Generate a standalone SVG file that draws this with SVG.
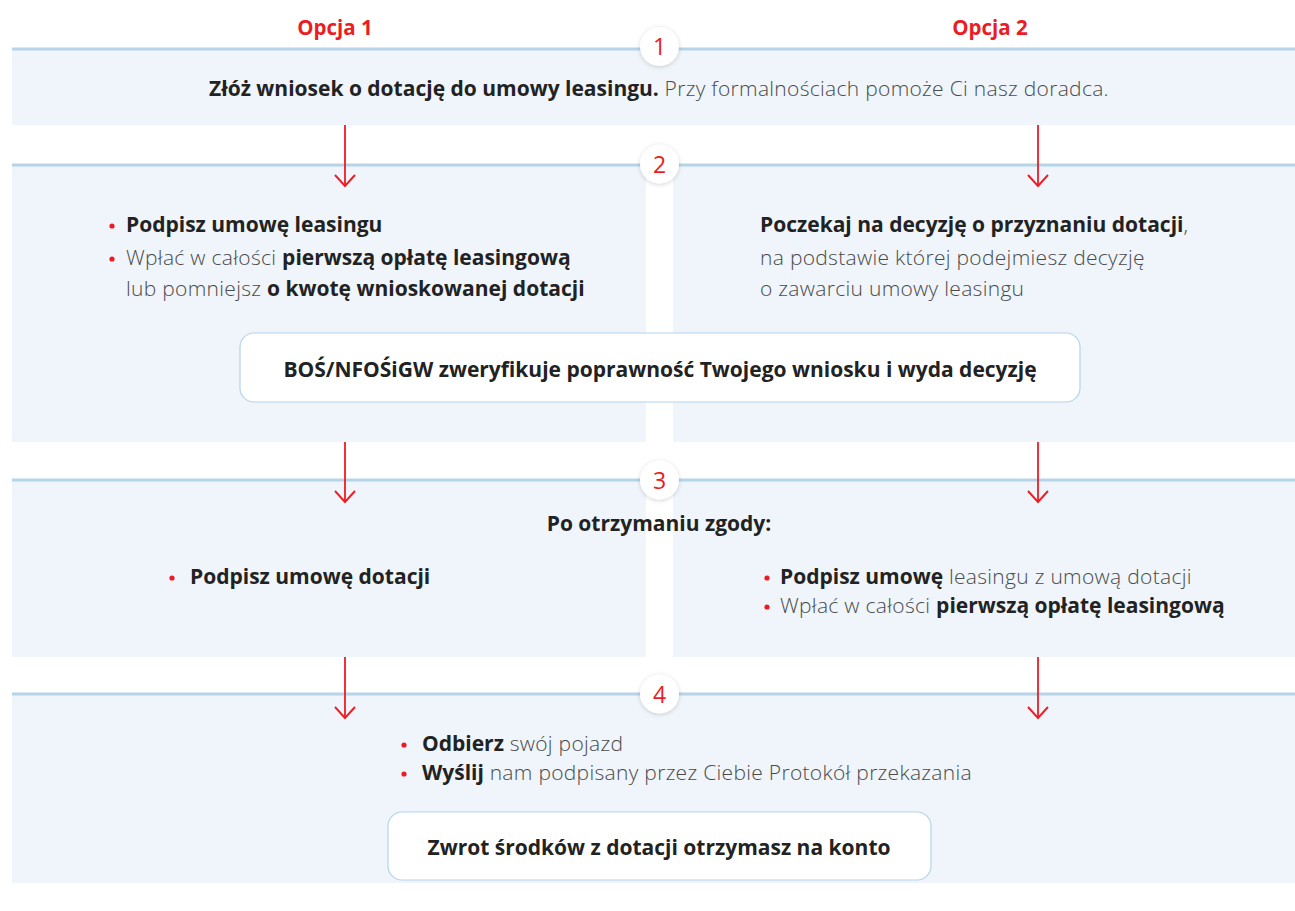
<svg xmlns="http://www.w3.org/2000/svg" width="1295" height="911" viewBox="0 0 1295 911">
<defs>
<style>
.band{fill:#eff5fa}
.rule{stroke:#b5d4e8;stroke-width:3}
.t{font-family:"Open Sans","Liberation Sans",sans-serif;font-size:21px;fill:#4a4a4a;font-weight:300;letter-spacing:0.3px}
.b{font-weight:700;fill:#222;letter-spacing:0}
.opt{font-family:"Open Sans","Liberation Sans",sans-serif;font-size:20.5px;font-weight:700;fill:#ec1c24}
.num{font-family:"Open Sans","Liberation Sans",sans-serif;font-size:23px;fill:#ec1c24;text-anchor:middle}
.circ{fill:#fff}
.box{fill:#fff;stroke:#b5d4e8;stroke-width:1.2}
.dot{fill:#ec1c24}
.arr{stroke:#ec1c24;stroke-width:1.8;fill:none}
</style>
<filter id="sh" x="-40%" y="-40%" width="180%" height="180%">
<feDropShadow dx="0" dy="1" stdDeviation="2" flood-color="#000" flood-opacity="0.18"/>
</filter>
<marker id="ah" markerWidth="14" markerHeight="22" refX="12" refY="11" markerUnits="userSpaceOnUse" orient="auto" viewBox="0 0 14 22">
<path d="M1 1 L12 11 L1 21" fill="none" stroke="#ec1c24" stroke-width="1.9"/>
</marker>
</defs>
<rect width="1295" height="911" fill="#fff"/>

<g id="headers">
<text class="opt" x="335" y="35" text-anchor="middle">Opcja 1</text>
<text class="opt" x="990" y="35" text-anchor="middle">Opcja 2</text>
</g>

<g id="step1">
<rect class="band" x="12" y="49" width="1283" height="76"/>
<line class="rule" x1="12" y1="49" x2="1295" y2="49"/>
<circle class="circ" cx="659.5" cy="46.5" r="19.5" filter="url(#sh)"/>
<text class="num" x="659.5" y="55">1</text>
<text class="t" x="659" y="96" text-anchor="middle"><tspan class="b">Złóż wniosek o dotację do umowy leasingu.</tspan> Przy formalnościach pomoże Ci nasz doradca.</text>
</g>

<g id="step2">
<rect class="band" x="12" y="165" width="634" height="277"/>
<rect class="band" x="673" y="165" width="622" height="277"/>
<line class="rule" x1="12" y1="165" x2="1295" y2="165"/>
<circle class="circ" cx="659.5" cy="164" r="19.5" filter="url(#sh)"/>
<text class="num" x="659.5" y="172.5">2</text>
</g>

<g id="step2-left">
<circle class="dot" cx="112" cy="226" r="2.6"/>
<circle class="dot" cx="112" cy="259" r="2.6"/>
<text class="t" x="126" y="232"><tspan class="b">Podpisz umowę leasingu</tspan></text>
<text class="t" x="126" y="265">Wpłać w całości <tspan class="b">pierwszą opłatę leasingową</tspan></text>
<text class="t" x="126" y="296">lub pomniejsz <tspan class="b">o kwotę wnioskowanej dotacji</tspan></text>
</g>

<g id="step2-right">
<text class="t" x="760" y="232"><tspan class="b">Poczekaj na decyzję o przyznaniu dotacji</tspan>,</text>
<text class="t" x="760" y="265">na podstawie której podejmiesz decyzję</text>
<text class="t" x="760" y="296">o zawarciu umowy leasingu</text>
</g>

<g id="verify">
<rect class="box" x="240" y="333" width="840" height="69" rx="14"/>
<text class="t" x="660" y="377" text-anchor="middle"><tspan class="b">BOŚ/NFOŚiGW zweryfikuje poprawność Twojego wniosku i wyda decyzję</tspan></text>
</g>

<g id="step3">
<rect class="band" x="12" y="480" width="634" height="177"/>
<rect class="band" x="673" y="480" width="622" height="177"/>
<line class="rule" x1="12" y1="480" x2="1295" y2="480"/>
<circle class="circ" cx="659.5" cy="480" r="19.5" filter="url(#sh)"/>
<text class="num" x="659.5" y="488.5">3</text>
<text class="t" x="659" y="531" text-anchor="middle"><tspan class="b">Po otrzymaniu zgody:</tspan></text>
</g>

<g id="step3-left">
<circle class="dot" cx="172" cy="578" r="2.6"/>
<text class="t" x="190" y="584"><tspan class="b">Podpisz umowę dotacji</tspan></text>
</g>

<g id="step3-right">
<circle class="dot" cx="767" cy="578" r="2.6"/>
<circle class="dot" cx="767" cy="607" r="2.6"/>
<text class="t" x="780" y="584"><tspan class="b">Podpisz umowę</tspan> leasingu z umową dotacji</text>
<text class="t" x="780" y="613">Wpłać w całości <tspan class="b">pierwszą opłatę leasingową</tspan></text>
</g>

<g id="step4">
<rect class="band" x="12" y="694" width="1283" height="189"/>
<line class="rule" x1="12" y1="694" x2="1295" y2="694"/>
<circle class="circ" cx="659.5" cy="694" r="19.5" filter="url(#sh)"/>
<text class="num" x="659.5" y="702.5">4</text>
<circle class="dot" cx="404" cy="745" r="2.6"/>
<circle class="dot" cx="404" cy="774" r="2.6"/>
<text class="t" x="422" y="751"><tspan class="b">Odbierz</tspan> swój pojazd</text>
<text class="t" x="422" y="780"><tspan class="b">Wyślij</tspan> nam podpisany przez Ciebie Protokół przekazania</text>
</g>

<g id="refund">
<rect class="box" x="388" y="812" width="543" height="68" rx="14"/>
<text class="t" x="659" y="855" text-anchor="middle"><tspan class="b">Zwrot środków z dotacji otrzymasz na konto</tspan></text>
</g>

<g id="connectors">
<line class="arr" x1="345" y1="125" x2="345" y2="186" marker-end="url(#ah)"/>
<line class="arr" x1="1038" y1="125" x2="1038" y2="186" marker-end="url(#ah)"/>
<line class="arr" x1="345" y1="442" x2="345" y2="502" marker-end="url(#ah)"/>
<line class="arr" x1="1038" y1="442" x2="1038" y2="502" marker-end="url(#ah)"/>
<line class="arr" x1="345" y1="657" x2="345" y2="718" marker-end="url(#ah)"/>
<line class="arr" x1="1038" y1="657" x2="1038" y2="718" marker-end="url(#ah)"/>
</g>
</svg>
